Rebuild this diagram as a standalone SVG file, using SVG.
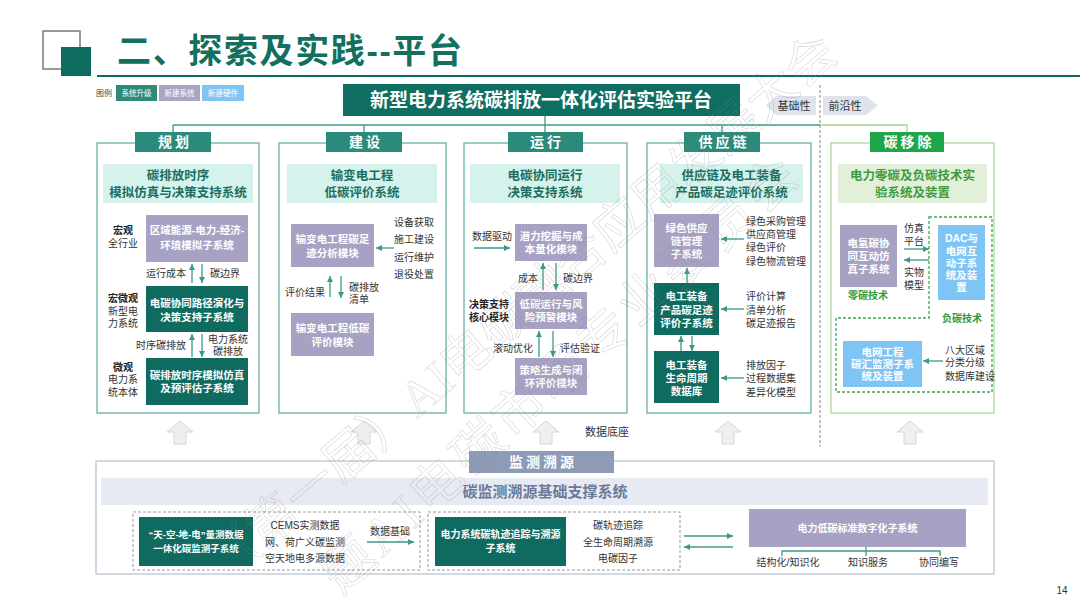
<svg xmlns="http://www.w3.org/2000/svg" width="1080" height="607" viewBox="0 0 1080 607">
<defs>
<style>
text{font-family:"Liberation Sans","Noto Sans CJK SC",sans-serif}
.lbl{font-size:10px;fill:#333}
.lm{font-size:10px;fill:#333;text-anchor:middle}
.le{font-size:10px;fill:#333;text-anchor:end}
.lb{font-size:10px;fill:#222;font-weight:bold;text-anchor:middle}
.bw{font-size:10.5px;font-weight:bold;fill:#fff;text-anchor:middle}
.tt{font-size:12.5px;font-weight:bold;fill:#1b6e60;text-anchor:middle}
.tg{font-size:12.5px;font-weight:bold;fill:#3c9c3e;text-anchor:middle}
.gl{font-size:10px;font-weight:bold;fill:#2e9a45;text-anchor:middle}
.tab{font-size:14px;font-weight:bold;fill:#fff;text-anchor:middle;letter-spacing:3px}
.pu{fill:#a7a2c4}
.dk{fill:#0f6b5f}
.bl{fill:#7ec4f5}
.lt{fill:#d5f2ed}
.tb{fill:#2b8a7a}
.col{fill:none;stroke:#5aaa9b;stroke-width:1.2}
.ar{stroke:#3a9a88;stroke-width:1.3;fill:none;marker-end:url(#ah)}
.ln{stroke:#3a9a88;stroke-width:1.3;fill:none}
.up{fill:#efefef;stroke:#d6d6d6;stroke-width:1}
</style>
<marker id="ah" viewBox="0 0 6 6" refX="6" refY="3" markerWidth="6" markerHeight="6" markerUnits="userSpaceOnUse" orient="auto">
<path d="M0,0 L6,3 L0,6 z" fill="#3a9a88"/>
</marker>
</defs>
<rect width="1080" height="607" fill="#fff"/>

<g id="header">
<rect x="43" y="31" width="37" height="38" fill="none" stroke="#7a7a7a" stroke-width="1.5"/>
<rect x="61" y="47" width="30" height="29" fill="#0e6b60"/>
<text x="117" y="63" font-size="34" font-weight="bold" fill="#13705f" textLength="345">二、探索及实践--平台</text>
<line x1="97" y1="76" x2="1080" y2="76" stroke="#0e6b60" stroke-width="2"/>
</g>

<g id="legend">
<text x="96" y="96" font-size="8" fill="#444">图例</text>
<rect x="116" y="85" width="41" height="16" fill="#2e8a7b"/>
<text x="136.5" y="96" font-size="7.5" fill="#fff" text-anchor="middle">系统升级</text>
<rect x="159" y="85" width="41" height="16" fill="#aaa5c5"/>
<text x="179.5" y="96" font-size="7.5" fill="#fff" text-anchor="middle">新建系统</text>
<rect x="202" y="85" width="42" height="16" fill="#80c5f5"/>
<text x="223" y="96" font-size="7.5" fill="#fff" text-anchor="middle">新建硬件</text>
</g>

<g id="platform">
<rect x="343" y="84" width="397" height="32" fill="#0f6e61"/>
<text x="541" y="107" font-size="19" font-weight="bold" fill="#fff" text-anchor="middle">新型电力系统碳排放一体化评估实验平台</text>
</g>

<g id="tags">
<polygon points="766,105.5 776,96 816,96 816,115 776,115" fill="#dfe3ec"/>
<text x="794" y="110" font-size="11" fill="#333" text-anchor="middle">基础性</text>
<polygon points="823,96 866,96 878,105.5 866,115 823,115" fill="#dfe3ec"/>
<text x="845" y="110" font-size="11" fill="#333" text-anchor="middle">前沿性</text>
<line x1="820" y1="85" x2="820" y2="447" stroke="#9a9a9a" stroke-width="1.2" stroke-dasharray="3,2"/>
</g>

<g id="connectors">
<path class="ln" d="M545,116 V132 M173,125 H820 M173,125 V132 M364,125 V132 M722,125 V132"/>
<path d="M820,125 H907 V132" stroke="#a8d58f" stroke-width="1.3" fill="none"/>
<line class="ar" x1="192" y1="283" x2="192" y2="264"/>
<line class="ar" x1="202" y1="264" x2="202" y2="283"/>
<line class="ar" x1="192" y1="357" x2="192" y2="334"/>
<line class="ar" x1="202" y1="334" x2="202" y2="357"/>
<line class="ar" x1="394" y1="248" x2="376" y2="248"/>
<line class="ar" x1="330" y1="297" x2="330" y2="276"/>
<line class="ar" x1="341" y1="276" x2="341" y2="298"/>
<line class="ar" x1="474" y1="248" x2="510" y2="248"/>
<line class="ar" x1="543" y1="290" x2="543" y2="263"/>
<line class="ar" x1="556" y1="263" x2="556" y2="290"/>
<line class="ar" x1="539" y1="357" x2="539" y2="331"/>
<line class="ar" x1="553" y1="331" x2="553" y2="357"/>
<line class="ar" x1="744" y1="239" x2="721" y2="239"/>
<line class="ar" x1="744" y1="309" x2="721" y2="309"/>
<line class="ar" x1="744" y1="378" x2="721" y2="378"/>
<line class="ar" x1="687" y1="283" x2="687" y2="268"/>
<line class="ar" x1="681" y1="351" x2="681" y2="336"/>
<line class="ar" x1="692" y1="336" x2="692" y2="351"/>
<line class="ar" x1="904" y1="249" x2="929" y2="249"/>
<line class="ar" x1="929" y1="260" x2="904" y2="260"/>
<line class="ar" x1="943" y1="361" x2="923" y2="361"/>
<line class="ar" x1="367" y1="542" x2="414" y2="542"/>
<line class="ar" x1="684" y1="536" x2="733" y2="536"/>
<line class="ar" x1="733" y1="547" x2="684" y2="547"/>
<path class="ln" d="M866,547 V556 M782,556 V551 H940 V556"/>
<polygon class="up" points="180,421 193,432 186,432 186,444 174,444 174,432 167,432"/>
<polygon class="up" points="364,421 377,432 370,432 370,444 358,444 358,432 351,432"/>
<polygon class="up" points="546,421 559,432 552,432 552,444 540,444 540,432 533,432"/>
<polygon class="up" points="728,421 741,432 734,432 734,444 722,444 722,432 715,432"/>
<polygon class="up" points="910,421 923,432 916,432 916,444 904,444 904,432 897,432"/>
</g>

<g id="col-guihua">
<rect class="col" x="97" y="143" width="162" height="270"/>
<rect class="tb" x="135" y="132" width="76" height="20"/>
<text class="tab" x="175" y="147">规划</text>
<rect class="lt" x="103" y="164" width="150" height="39"/>
<text class="tt" x="178" y="180">碳排放时序</text>
<text class="tt" x="178" y="196.5">模拟仿真与决策支持系统</text>
<g id="gh-box1"><rect class="pu" x="146" y="215" width="102" height="47"/>
<text class="bw" x="197" y="234">区域能源-电力-经济-</text><text class="bw" x="197" y="249">环境模拟子系统</text></g>
<g id="gh-box2"><rect class="dk" x="146" y="286" width="102" height="46"/>
<text class="bw" x="197" y="307">电碳协同路径演化与</text><text class="bw" x="197" y="321">决策支持子系统</text></g>
<g id="gh-box3"><rect class="dk" x="146" y="358" width="102" height="47"/>
<text class="bw" x="197" y="379">碳排放时序模拟仿真</text><text class="bw" x="197" y="392">及预评估子系统</text></g>
<text class="lb" x="123" y="234">宏观</text><text class="lm" x="123" y="247">全行业</text>
<text class="lb" x="123" y="302">宏微观</text><text class="lm" x="123" y="315">新型电</text><text class="lm" x="123" y="327">力系统</text>
<text class="lb" x="123" y="371">微观</text><text class="lm" x="123" y="383">电力系</text><text class="lm" x="123" y="396">统本体</text>
<text class="le" x="186" y="277">运行成本</text><text class="lbl" x="210" y="277">碳边界</text>
<text class="le" x="186" y="349">时序碳排放</text>
<text class="lm" x="228" y="343">电力系统</text><text class="lm" x="228" y="355">碳排放</text>
</g>

<g id="col-jianshe">
<rect class="col" x="279" y="143" width="167" height="270"/>
<rect class="tb" x="326" y="132" width="76" height="20"/>
<text class="tab" x="366" y="147">建设</text>
<rect class="lt" x="287" y="164" width="150" height="39"/>
<text class="tt" x="362" y="180">输变电工程</text>
<text class="tt" x="362" y="196.5">低碳评价系统</text>
<g id="js-boxA"><rect class="pu" x="291" y="224" width="83" height="43"/>
<text class="bw" x="332.5" y="243">输变电工程碳足</text><text class="bw" x="332.5" y="257">迹分析模块</text></g>
<g id="js-boxB"><rect class="pu" x="291" y="313" width="83" height="43"/>
<text class="bw" x="332.5" y="332">输变电工程低碳</text><text class="bw" x="332.5" y="346">评价模块</text></g>
<text class="lm" x="414" y="226">设备获取</text><text class="lm" x="414" y="243">施工建设</text>
<text class="lm" x="414" y="261">运行维护</text><text class="lm" x="414" y="278">退役处置</text>
<text class="le" x="325" y="296">评价结果</text>
<text class="lbl" x="349" y="291">碳排放</text><text class="lbl" x="349" y="303">清单</text>
</g>

<g id="col-yunxing">
<rect class="col" x="464" y="143" width="163" height="270"/>
<rect class="tb" x="508" y="132" width="75" height="20"/>
<text class="tab" x="547" y="147">运行</text>
<rect class="lt" x="470" y="164" width="150" height="39"/>
<text class="tt" x="545" y="180">电碳协同运行</text>
<text class="tt" x="545" y="196.5">决策支持系统</text>
<g id="yx-boxA"><rect class="pu" x="515" y="224" width="72" height="37"/>
<text class="bw" x="551" y="240">潜力挖掘与成</text><text class="bw" x="551" y="253">本量化模块</text></g>
<g id="yx-boxB"><rect class="pu" x="515" y="292" width="72" height="37"/>
<text class="bw" x="551" y="308">低碳运行与风</text><text class="bw" x="551" y="321">险预警模块</text></g>
<g id="yx-boxC"><rect class="pu" x="515" y="358" width="72" height="37"/>
<text class="bw" x="551" y="374">策略生成与闭</text><text class="bw" x="551" y="387">环评价模块</text></g>
<text class="lm" x="492" y="240">数据驱动</text>
<text class="le" x="538" y="282">成本</text><text class="lbl" x="563" y="282">碳边界</text>
<text class="lb" x="489" y="308">决策支持</text><text class="lb" x="489" y="321">核心模块</text>
<text class="le" x="533" y="352">滚动优化</text><text class="lbl" x="560" y="352">评估验证</text>
</g>

<g id="col-gongyinglian">
<rect class="col" x="647" y="143" width="164" height="270"/>
<rect class="tb" x="684" y="132" width="76" height="20"/>
<text class="tab" x="724" y="147">供应链</text>
<rect class="lt" x="660" y="164" width="143" height="39"/>
<text class="tt" x="731.5" y="180">供应链及电工装备</text>
<text class="tt" x="731.5" y="196.5">产品碳足迹评价系统</text>
<g id="gy-boxA"><rect class="pu" x="654" y="214" width="65" height="53"/>
<text class="bw" x="686.5" y="232">绿色供应</text><text class="bw" x="686.5" y="245">链管理</text><text class="bw" x="686.5" y="258">子系统</text></g>
<g id="gy-boxB"><rect class="dk" x="654" y="283" width="65" height="52"/>
<text class="bw" x="686.5" y="300">电工装备</text><text class="bw" x="686.5" y="314">产品碳足迹</text><text class="bw" x="686.5" y="327">评价子系统</text></g>
<g id="gy-boxC"><rect class="dk" x="654" y="351" width="65" height="52"/>
<text class="bw" x="686.5" y="369">电工装备</text><text class="bw" x="686.5" y="382">生命周期</text><text class="bw" x="686.5" y="395">数据库</text></g>
<text class="lbl" x="746" y="225">绿色采购管理</text><text class="lbl" x="746" y="238">供应商管理</text>
<text class="lbl" x="746" y="251">绿色评价</text><text class="lbl" x="746" y="265">绿色物流管理</text>
<text class="lbl" x="746" y="300">评价计算</text><text class="lbl" x="746" y="314">清单分析</text><text class="lbl" x="746" y="327">碳足迹报告</text>
<text class="lbl" x="746" y="369">排放因子</text><text class="lbl" x="746" y="382">过程数据集</text><text class="lbl" x="746" y="396">差异化模型</text>
</g>

<g id="col-tanyichu">
<rect x="831" y="143" width="163" height="270" fill="none" stroke="#a8d58f" stroke-width="1.2"/>
<rect x="870" y="132" width="74" height="20" fill="#1fa64a"/>
<text class="tab" x="909" y="147">碳移除</text>
<rect x="838" y="164" width="149" height="39" fill="#e2f0d9"/>
<text class="tg" x="912.5" y="180">电力零碳及负碳技术实</text>
<text class="tg" x="912.5" y="196.5">验系统及装置</text>
<polygon points="929,217 992,217 992,392 836,392 836,318 929,318" fill="none" stroke="#3aa655" stroke-width="1.3" stroke-dasharray="3,2"/>
<g id="ty-boxA"><rect class="pu" x="840" y="225" width="57" height="62"/>
<text class="bw" x="868.5" y="247">电氢碳协</text><text class="bw" x="868.5" y="260">同互动仿</text><text class="bw" x="868.5" y="273">真子系统</text></g>
<g id="ty-boxB"><rect class="bl" x="938" y="225" width="47" height="75"/>
<text class="bw" x="961.5" y="242">DAC与</text><text class="bw" x="961.5" y="255">电网互</text><text class="bw" x="961.5" y="267">动子系</text><text class="bw" x="961.5" y="279">统及装</text><text class="bw" x="961.5" y="291">置</text></g>
<g id="ty-boxC"><rect class="bl" x="843" y="341" width="79" height="46"/>
<text class="bw" x="882.5" y="356">电网工程</text><text class="bw" x="882.5" y="368">碳汇监测子系</text><text class="bw" x="882.5" y="380">统及装置</text></g>
<text class="gl" x="868" y="299">零碳技术</text>
<text class="gl" x="962" y="322">负碳技术</text>
<text class="lm" x="914" y="232">仿真</text><text class="lm" x="914" y="245">平台</text>
<text class="lm" x="914" y="276">实物</text><text class="lm" x="914" y="289">模型</text>
<text class="lbl" x="945" y="354">八大区域</text><text class="lbl" x="945" y="366">分类分级</text><text class="lbl" x="945" y="380">数据库建设</text>
</g>

<text x="607" y="436" font-size="11" fill="#333" text-anchor="middle">数据底座</text>

<g id="bottom">
<rect x="96" y="461" width="898" height="113" fill="none" stroke="#b5c0cf" stroke-width="1.2"/>
<rect x="469" y="451" width="145" height="22" fill="#8d9bb6"/>
<text class="tab" x="543" y="467">监测溯源</text>
<rect x="101" y="478" width="887" height="27" fill="#e7eaf2"/>
<text x="545" y="497" font-size="15" font-weight="bold" fill="#6b7a98" text-anchor="middle">碳监测溯源基础支撑系统</text>
<rect x="133" y="512" width="287" height="58" fill="none" stroke="#999" stroke-dasharray="3,2"/>
<g id="bt-box1"><rect class="dk" x="139" y="517" width="114" height="49"/>
<text x="196" y="538" font-size="9.5" font-weight="bold" fill="#fff" text-anchor="middle">“天-空-地-电”量测数据</text>
<text x="196" y="552" font-size="9.5" font-weight="bold" fill="#fff" text-anchor="middle">一体化碳监测子系统</text></g>
<text class="lm" x="305" y="529">CEMS实测数据</text>
<text class="lm" x="305" y="546">网、荷广义碳监测</text>
<text class="lm" x="305" y="562">空天地电多源数据</text>
<text class="lm" x="390" y="535">数据基础</text>
<rect x="428" y="512" width="252" height="58" fill="none" stroke="#999" stroke-dasharray="3,2"/>
<g id="bt-box2"><rect class="dk" x="435" y="517" width="131" height="49"/>
<text x="500.5" y="538" font-size="10" font-weight="bold" fill="#fff" text-anchor="middle">电力系统碳轨迹追踪与溯源</text>
<text x="500.5" y="552" font-size="10" font-weight="bold" fill="#fff" text-anchor="middle">子系统</text></g>
<text class="lm" x="618" y="529">碳轨迹追踪</text>
<text class="lm" x="618" y="546">全生命周期溯源</text>
<text class="lm" x="618" y="562">电碳因子</text>
<g id="bt-box3"><rect class="pu" x="749" y="509" width="217" height="38"/>
<text x="857.5" y="532" font-size="10" font-weight="bold" fill="#fff" text-anchor="middle">电力低碳标准数字化子系统</text></g>
<text class="lm" x="788" y="566">结构化/知识化</text>
<text class="lm" x="868" y="566">知识服务</text>
<text class="lm" x="939" y="566">协同编写</text>
</g>

<text x="1062" y="594" font-size="10" fill="#333" text-anchor="middle">14</text>

<g id="watermark" opacity="0.35" fill="none" stroke="#8a8a8a" stroke-width="0.6">
<text transform="translate(533,320) rotate(-40.5)" text-anchor="middle" font-size="50" textLength="808" style="font-family:'Liberation Serif','Noto Sans CJK SC',serif">（第一届）AI电碳融合应用发展大会</text>
<text transform="translate(571,388) rotate(-42)" text-anchor="middle" font-size="52" textLength="620" style="font-family:'Liberation Serif','Noto Sans CJK SC',serif">题AI电碳市场专业委员会</text>
</g>
</svg>
